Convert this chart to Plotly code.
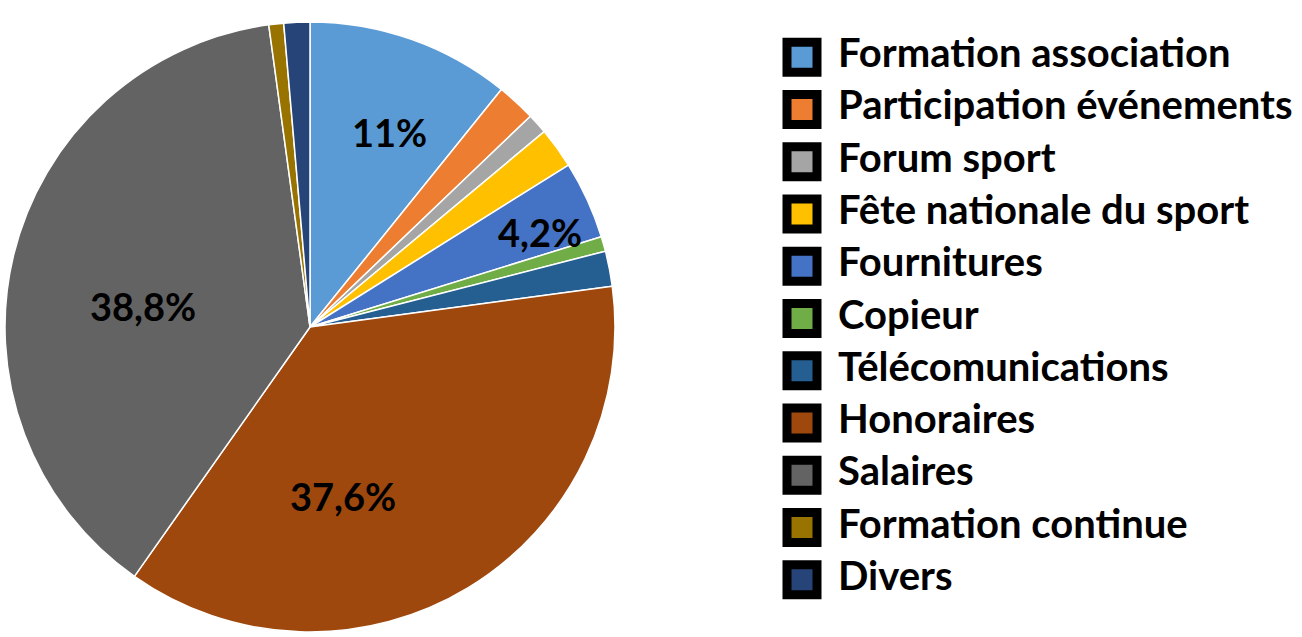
import math
import plotly.graph_objects as go

# ---------------- data ----------------
categories = [
    "Formation association",
    "Participation événements",
    "Forum sport",
    "Fête nationale du sport",
    "Fournitures",
    "Copieur",
    "Télécomunications",
    "Honoraires",
    "Salaires",
    "Formation continue",
    "Divers",
]
values = [11.0, 2.1, 1.1, 2.2, 4.2, 0.8, 1.9, 37.6, 38.8, 0.8, 1.4]
shown_labels = {
    "Formation association": "11%",
    "Fournitures": "4,2%",
    "Honoraires": "37,6%",
    "Salaires": "38,8%",
}
colors = [
    "#5B9BD5", "#ED7D31", "#A5A5A5", "#FFC000", "#4472C4", "#70AD47",
    "#255E91", "#9E480E", "#636363", "#997300", "#264478",
]

# ---------------- layout constants ----------------
W, H = 1302, 637
CX, CY, R = 310, 327, 305           # pie centre / radius in pixels
# label placement (angle clockwise from 12 o'clock in degrees, radius fraction)
label_place = {
    "Formation association": (22.3, 0.69),
    "Fournitures": (67.6, 0.816),
    "Honoraires": (168.9, 0.565),
    "Salaires": (277.2, 0.552),
}
SWATCH_PX, TEXT_PX = 802, 838       # legend swatch centre / text start (px)
LEG_TOP, LEG_BOTTOM = 31, 606       # legend rows band (px)
FONT = "Lato"

fig = go.Figure()

fig.add_trace(go.Pie(
    labels=categories,
    values=values,
    sort=False,
    direction="clockwise",
    rotation=0,
    marker=dict(colors=colors, line=dict(color="white", width=1.5)),
    textinfo="none",
    hoverinfo="label+percent",
    showlegend=False,
    domain=dict(x=[(CX - R) / W, (CX + R) / W],
                y=[1 - (CY + R) / H, 1 - (CY - R) / H]),
))

# legend drawn as a scatter on a hidden axis
fig.add_trace(go.Scatter(
    x=[0] * len(categories), y=categories, mode="markers",
    marker=dict(symbol="square", size=30, color=colors,
                line=dict(color="black", width=9)),
    hoverinfo="skip", showlegend=False, xaxis="x", yaxis="y",
))
fig.add_trace(go.Scatter(
    x=[1] * len(categories), y=categories, mode="text",
    text=categories, textposition="middle right",
    textfont=dict(family=FONT, size=40, color="black", weight="bold"),
    hoverinfo="skip", showlegend=False, xaxis="x", yaxis="y",
))

unit = TEXT_PX - SWATCH_PX
x_dom0 = 0.5
fig.update_layout(
    xaxis=dict(domain=[x_dom0, 1],
               range=[(x_dom0 * W - SWATCH_PX) / unit, (W - SWATCH_PX) / unit],
               visible=False, fixedrange=True),
    yaxis=dict(domain=[1 - LEG_BOTTOM / H, 1 - LEG_TOP / H],
               type="category", range=[len(categories) - 0.5, -0.5],
               visible=False, fixedrange=True),
)

# percentage labels on the pie
annotations = []
for name, txt in shown_labels.items():
    ang, frac = label_place[name]
    a = math.radians(ang)
    px = CX + frac * R * math.sin(a)
    py = CY - frac * R * math.cos(a)
    annotations.append(dict(
        x=px / W, y=1 - py / H, xref="paper", yref="paper",
        text=txt, showarrow=False, xanchor="center", yanchor="middle",
        font=dict(family=FONT, size=38, color="black", weight="bold"),
    ))

fig.update_layout(
    width=W, height=H,
    margin=dict(l=0, r=0, t=0, b=0),
    paper_bgcolor="white", plot_bgcolor="white",
    annotations=annotations,
    showlegend=False,
)

fig.write_html("out.html")
